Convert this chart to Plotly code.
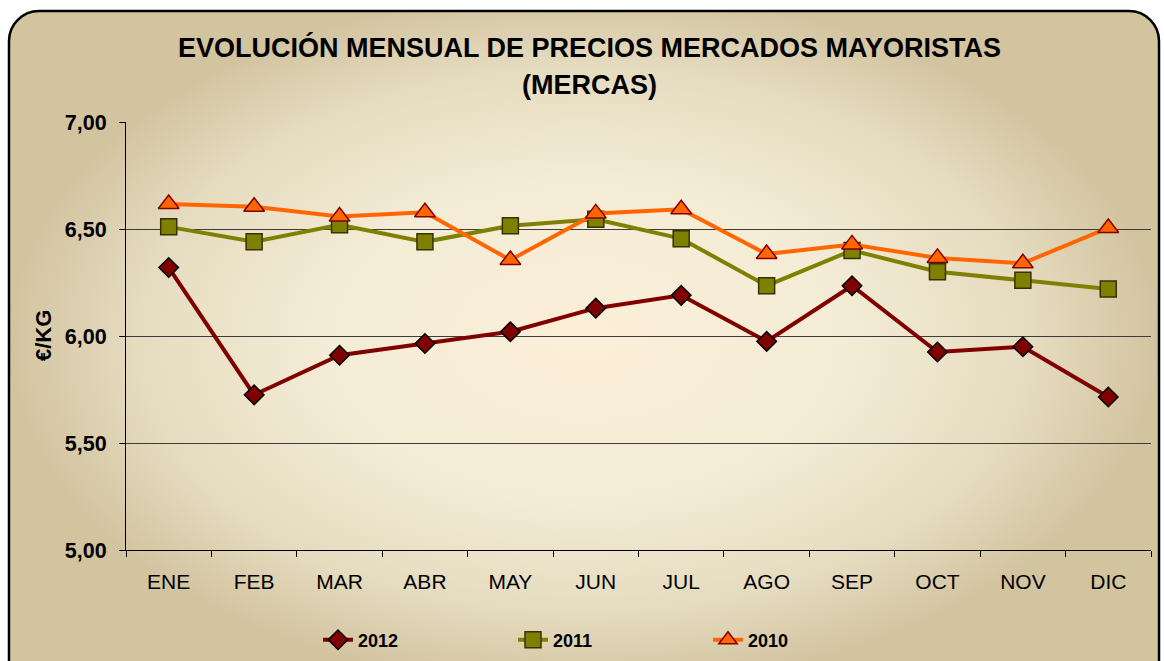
import base64
import plotly.graph_objects as go

months = ["ENE", "FEB", "MAR", "ABR", "MAY", "JUN", "JUL", "AGO", "SEP", "OCT", "NOV", "DIC"]
v2012 = [6.32, 5.725, 5.91, 5.965, 6.02, 6.13, 6.19, 5.975, 6.235, 5.925, 5.95, 5.715]
v2011 = [6.51, 6.44, 6.52, 6.44, 6.515, 6.545, 6.455, 6.235, 6.40, 6.30, 6.26, 6.22]
v2010 = [6.617, 6.604, 6.558, 6.578, 6.355, 6.573, 6.592, 6.383, 6.428, 6.365, 6.34, 6.505]
y_ticks = [5.0, 5.5, 6.0, 6.5, 7.0]
y_tick_labels = ["5,00", "5,50", "6,00", "6,50", "7,00"]

W, H = 1164, 661
L, T, R, B = 126, 122, 1151, 550
PW, PH = R - L, B - T

svg = f'''<svg xmlns="http://www.w3.org/2000/svg" width="{W}" height="{H}" viewBox="0 0 {W} {H}">
<defs>
<radialGradient id="g1" cx="0.5" cy="0.47" r="0.5">
<stop offset="0" stop-color="#FCEFD8"/>
<stop offset="0.45" stop-color="#F4ECD6"/>
<stop offset="0.78" stop-color="#E5DBBF"/>
<stop offset="1" stop-color="#D3C4A0"/>
</radialGradient>
</defs>
<rect width="{W}" height="{H}" fill="white"/>
<rect x="9" y="11" width="1150" height="700" rx="30" ry="30" fill="url(#g1)" stroke="black" stroke-width="2.5"/>
</svg>'''
bg_uri = "data:image/svg+xml;base64," + base64.b64encode(svg.encode()).decode()

FONT = "Liberation Sans, Arial, sans-serif"

fig = go.Figure()
fig.add_trace(go.Scatter(
    x=months, y=v2012, name="2012", mode="lines+markers",
    line=dict(color="#800000", width=4),
    marker=dict(symbol="diamond", size=15, color="#800000", line=dict(color="black", width=1.5)),
))
fig.add_trace(go.Scatter(
    x=months, y=v2011, name="2011", mode="lines+markers",
    line=dict(color="#808000", width=4),
    marker=dict(symbol="square", size=16, color="#808000", line=dict(color="#333300", width=1.5)),
))
fig.add_trace(go.Scatter(
    x=months, y=v2010, name="2010", mode="lines+markers",
    line=dict(color="#FF6600", width=4),
    marker=dict(symbol="triangle-up", size=18, color="#FF6600", line=dict(color="#800000", width=1.5)),
))

def px_x(px):
    return (px - L) / PW

def px_y(py):
    return (B - py) / PH

fig.update_layout(
    width=W, height=H,
    margin=dict(l=L, r=W - R, t=T, b=H - B, pad=0, autoexpand=False),
    paper_bgcolor="rgba(0,0,0,0)",
    plot_bgcolor="rgba(0,0,0,0)",
    font=dict(family=FONT, color="black"),
    showlegend=True,
    legend=dict(
        orientation="h", x=px_x(318), y=px_y(640), xanchor="left", yanchor="middle",
        entrywidth=150, entrywidthmode="pixels",
        font=dict(family=FONT, size=18, color="black", weight="bold"),
        bgcolor="rgba(0,0,0,0)", itemsizing="trace",
    ),
    images=[dict(
        source=bg_uri, xref="paper", yref="paper",
        x=px_x(0), y=px_y(0), sizex=W / PW, sizey=H / PH,
        xanchor="left", yanchor="top", sizing="stretch", layer="below",
    )],
    annotations=[
        dict(text="<b>EVOLUCIÓN MENSUAL DE PRECIOS MERCADOS MAYORISTAS</b>", xref="paper", yref="paper",
             x=px_x(589), y=px_y(48), xanchor="center", yanchor="middle", showarrow=False,
             font=dict(family=FONT, size=27, color="black")),
        dict(text="<b>(MERCAS)</b>", xref="paper", yref="paper",
             x=px_x(589), y=px_y(85), xanchor="center", yanchor="middle", showarrow=False,
             font=dict(family=FONT, size=27, color="black")),
        dict(text="<b>€/KG</b>", xref="paper", yref="paper",
             x=px_x(43), y=px_y(336), xanchor="center", yanchor="middle", showarrow=False,
             textangle=-90, font=dict(family=FONT, size=22, color="black")),
    ],
)

fig.update_xaxes(
    type="category", range=[-0.5, 11.5], showline=True, linecolor="black", linewidth=1,
    ticks="outside", tickson="boundaries", ticklen=6, tickcolor="black",
    showgrid=False, tickfont=dict(family=FONT, size=21, color="black"),
    ticklabelstandoff=13,
)
fig.update_yaxes(
    range=[5.0, 7.0], tickvals=y_ticks, ticktext=y_tick_labels,
    showline=True, linecolor="black", linewidth=1,
    ticks="outside", ticklen=6, tickcolor="black",
    showgrid=True, gridcolor="#3c3c3c", gridwidth=1, zeroline=False,
    tickfont=dict(family=FONT, size=21.5, color="black", weight="bold"),
    ticklabelstandoff=8,
)

fig.write_html("out.html", config={"displayModeBar": False},
               post_script="document.body.style.margin='0';")
